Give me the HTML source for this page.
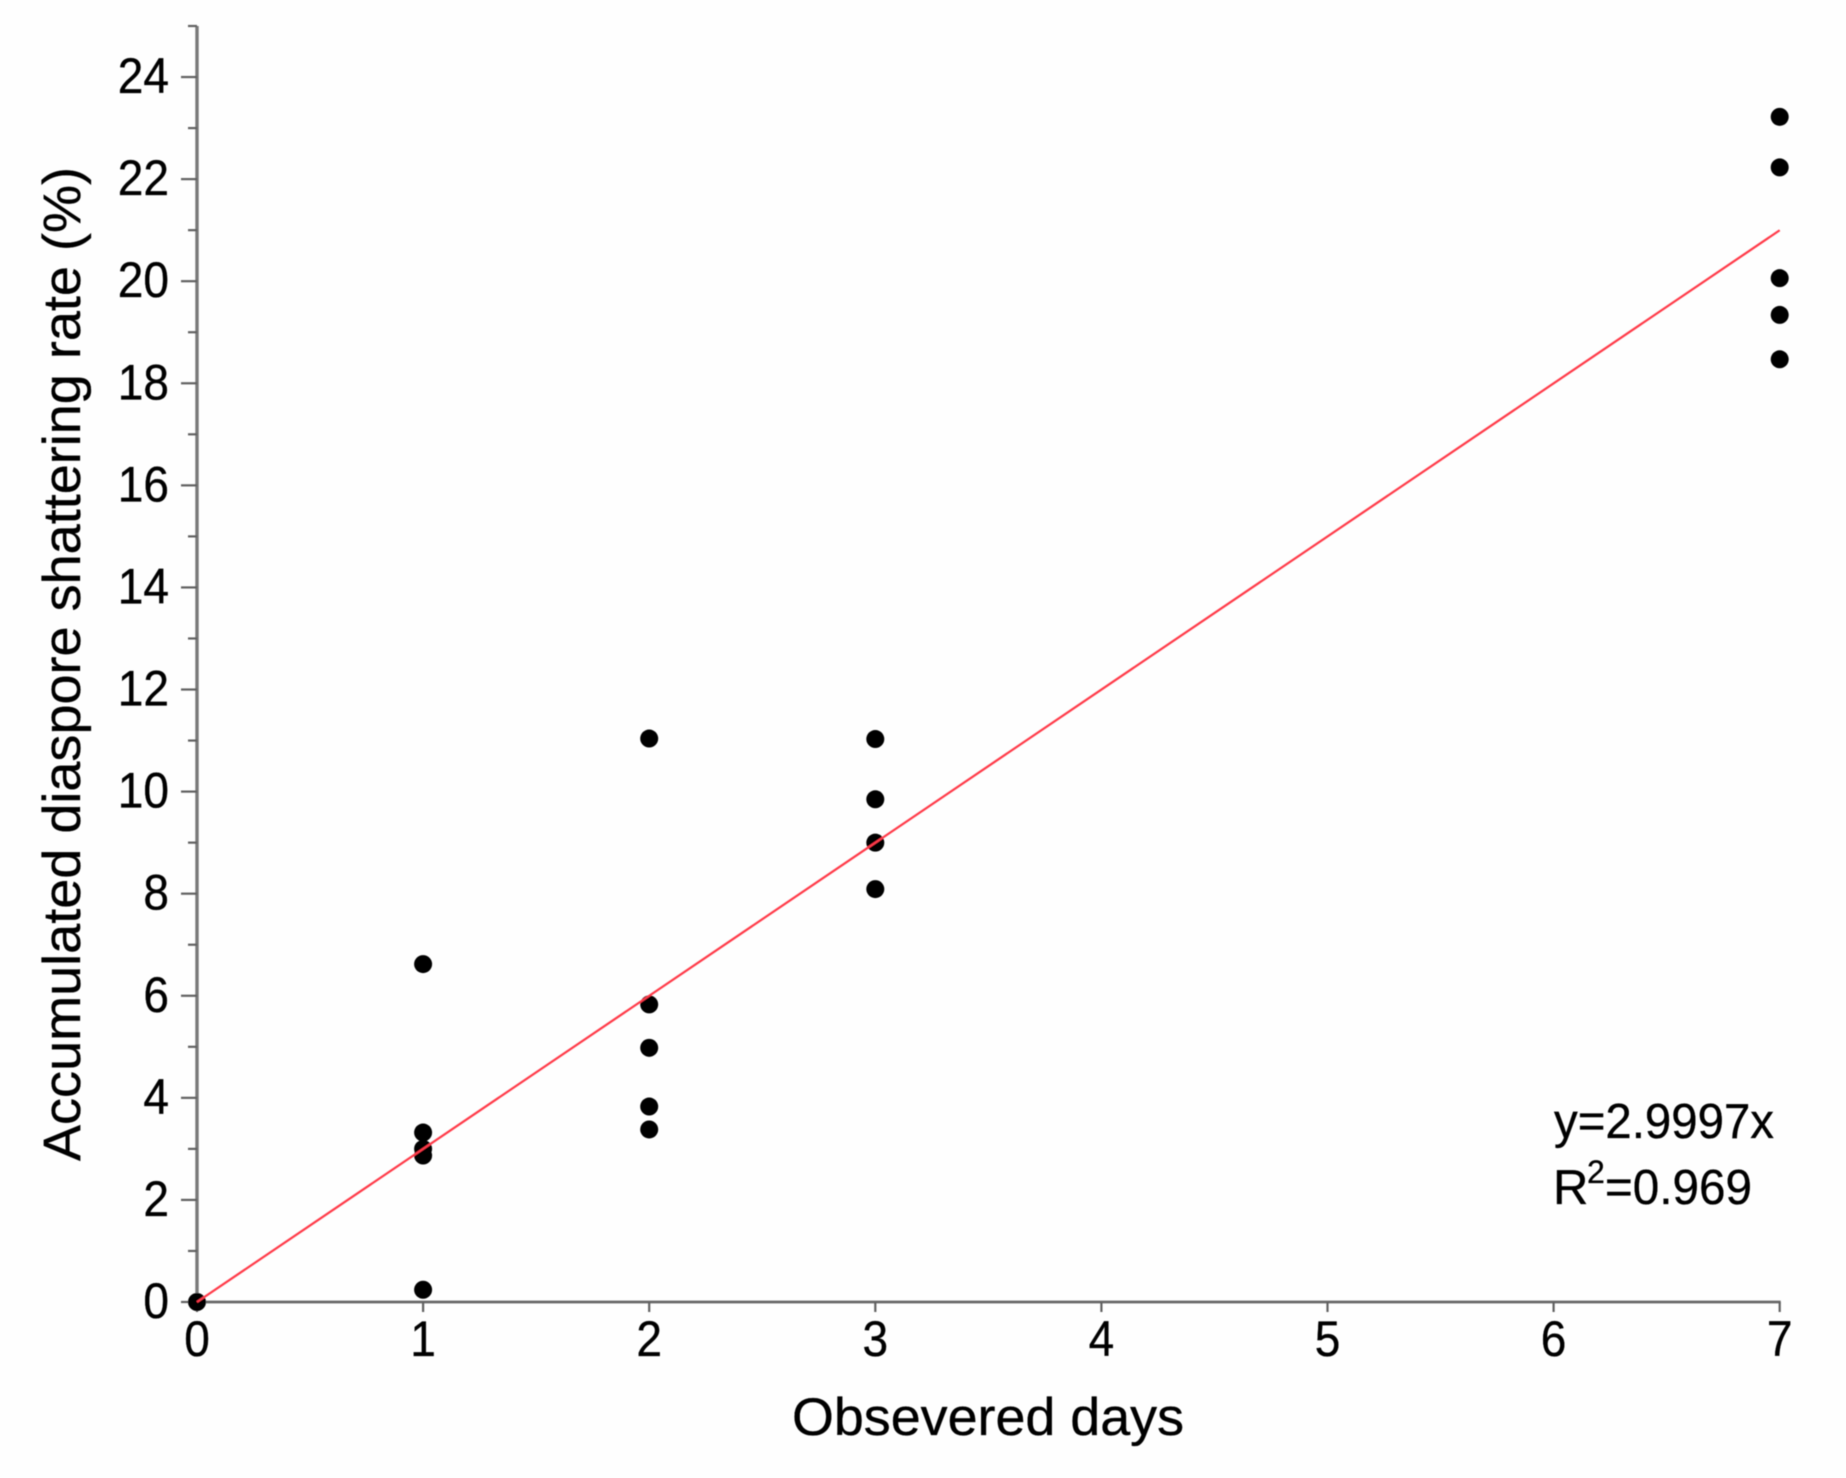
<!DOCTYPE html>
<html lang="en">
<head>
<meta charset="utf-8">
<title>Accumulated diaspore shattering rate</title>
<style>
html,body{margin:0;padding:0;background:#fefefe;}
svg{display:block;}
text{font-family:"Liberation Sans",Arial,sans-serif;fill:#000;stroke:#000;stroke-width:0.35px;}
</style>
</head>
<body>
<svg id="chart" xmlns="http://www.w3.org/2000/svg" width="1846" height="1478" viewBox="0 0 1846 1478">
  <defs><filter id="soft" x="-5%" y="-5%" width="110%" height="110%"><feGaussianBlur stdDeviation="0.6"/></filter></defs>
  <rect x="0" y="0" width="1846" height="1478" fill="#fefefe"/>
  <g id="plot" filter="url(#soft)">
    <g id="axes"></g>
    <g id="points"></g>
    <g id="fit"></g>
    <g id="labels"></g>
    <text x="988" y="1435" font-size="53" text-anchor="middle" textLength="392" lengthAdjust="spacingAndGlyphs">Obsevered days</text>
    <text transform="translate(80,664) rotate(-90)" font-size="53" text-anchor="middle" textLength="994" lengthAdjust="spacingAndGlyphs">Accumulated diaspore shattering rate (%)</text>
    <text x="1554" y="1138" font-size="49" textLength="220" lengthAdjust="spacingAndGlyphs">y=2.9997x</text>
    <text x="1553" y="1204" font-size="49">R</text>
    <text x="1587" y="1183" font-size="32">2</text>
    <text x="1605" y="1204" font-size="49" textLength="147" lengthAdjust="spacingAndGlyphs">=0.969</text>
  </g>
</svg>
<script>
const xTicks = [0, 1, 2, 3, 4, 5, 6, 7];
const yMajorTicks = [0, 2, 4, 6, 8, 10, 12, 14, 16, 18, 20, 22, 24];
const yMinorTicks = [1, 3, 5, 7, 9, 11, 13, 15, 17, 19, 21, 23, 25];
const pointDays = [0, 1, 1, 1, 1, 1, 2, 2, 2, 2, 2, 3, 3, 3, 3, 7, 7, 7, 7, 7];
const pointRates = [0, 6.62, 3.32, 3.0, 2.87, 0.24, 11.04, 5.83, 4.98, 3.83, 3.38, 11.03, 9.85, 9.0, 8.09, 23.22, 22.23, 20.06, 19.34, 18.47];
const fitSlope = [2.9997];
const fitDays = [0, 7];

const NS = 'http://www.w3.org/2000/svg';
function sx(v) { return 197 + v * 226.1; }
function sy(v) { return 1302 - v * 51.04; }
function make(tag, attrs, parent, text) {
  const el = document.createElementNS(NS, tag);
  for (const k in attrs) el.setAttribute(k, attrs[k]);
  if (text !== undefined) el.textContent = text;
  parent.appendChild(el);
  return el;
}
const axes = document.getElementById('axes');
const pointsG = document.getElementById('points');
const fitG = document.getElementById('fit');
const labels = document.getElementById('labels');

const yAxis = make('line', {x1: 197, x2: 197, y1: sy(25), y2: sy(0), stroke: '#787878', 'stroke-width': 3.4}, axes);


const xAxis = make('line', {x1: sx(0), x2: sx(7) + 1, y1: sy(0), y2: sy(0), stroke: '#686868', 'stroke-width': 2.8}, axes);



yMajorTicks.forEach(function (v) {
  const t = make('line', {x1: 181, x2: 197, y1: sy(v), y2: sy(v), stroke: '#606060', 'stroke-width': 2.2}, axes);
  
  
  const label = String(v);
  const l = make('text', {x: 169, y: sy(v) + 16, 'font-size': 50, 'text-anchor': 'end', textLength: label.length * 25.6, lengthAdjust: 'spacingAndGlyphs'}, labels, label);
  
  
});
yMinorTicks.forEach(function (v) {
  const t = make('line', {x1: 188, x2: 197, y1: sy(v), y2: sy(v), stroke: '#606060', 'stroke-width': 2.2}, axes);
  
  
});
xTicks.forEach(function (v) {
  const t = make('line', {x1: sx(v), x2: sx(v), y1: sy(0), y2: sy(0) + 10, stroke: '#606060', 'stroke-width': 2.2}, axes);
  
  
  const l = make('text', {x: sx(v), y: 1356, 'font-size': 50, 'text-anchor': 'middle', textLength: 25.6, lengthAdjust: 'spacingAndGlyphs'}, labels, String(v));
  
  
});
pointDays.forEach(function (d, i) {
  const c = make('circle', {cx: sx(d), cy: sy(pointRates[i]), r: 9, fill: '#000'}, pointsG);
  
  
});
const fit = make('line', {x1: sx(fitDays[0]), y1: sy(fitDays[0] * fitSlope[0]), x2: sx(fitDays[1]), y2: sy(fitDays[1] * fitSlope[0]), stroke: '#ff3b4a', 'stroke-width': 2.2}, fitG);


</script>
</body>
</html>
